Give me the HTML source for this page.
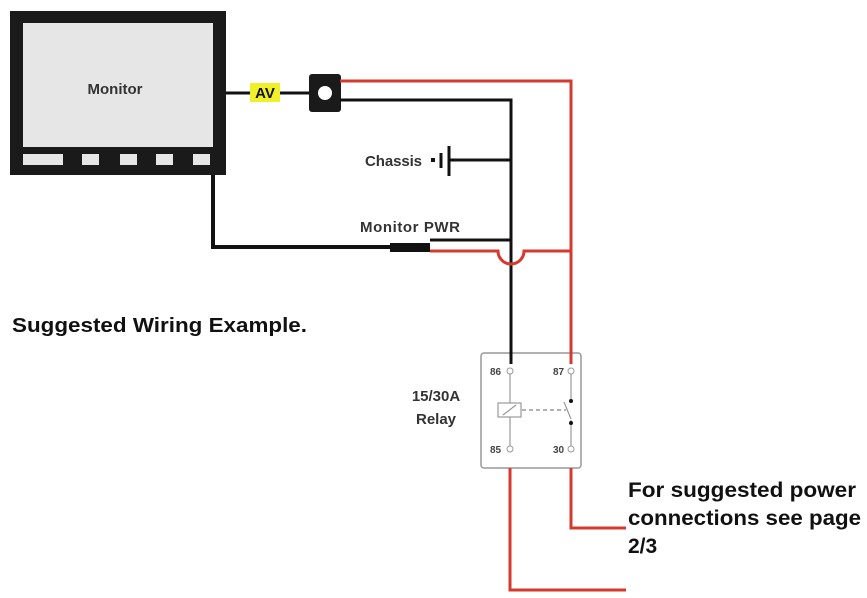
<!DOCTYPE html>
<html><head><style>
body{margin:0;background:#fff;width:867px;height:598px;overflow:hidden;font-family:"Liberation Sans",sans-serif}
</style></head><body>
<svg width="867" height="598" viewBox="0 0 867 598" xmlns="http://www.w3.org/2000/svg" style="position:absolute;left:0;top:0">
<rect x="10" y="11" width="216" height="164" fill="#1a1a1a"/>
<rect x="23" y="23" width="190" height="124" fill="#e6e6e6"/>
<rect x="23" y="154" width="40" height="11" fill="#e6e6e6"/>
<rect x="82" y="154" width="17" height="11" fill="#e6e6e6"/>
<rect x="120" y="154" width="17" height="11" fill="#e6e6e6"/>
<rect x="156" y="154" width="17" height="11" fill="#e6e6e6"/>
<rect x="193" y="154" width="17" height="11" fill="#e6e6e6"/>
<text x="115" y="94" font-size="15" font-weight="bold" fill="#333" text-anchor="middle">Monitor</text>
<line x1="226" y1="93" x2="312" y2="93" stroke="#111" stroke-width="3"/>
<rect x="250" y="83" width="30" height="19" fill="#f0f02a"/>
<text x="265" y="98" font-size="15" font-weight="bold" fill="#111" text-anchor="middle">AV</text>
<rect x="309" y="74" width="32" height="38" rx="3" fill="#1a1a1a"/>
<circle cx="325" cy="93" r="7" fill="#fff"/>
<polyline points="340,81 571,81 571,360" fill="none" stroke="#d63a2f" stroke-width="3"/>
<polyline points="340,100 511,100 511,362" fill="none" stroke="#111" stroke-width="3"/>
<line x1="449" y1="160" x2="511" y2="160" stroke="#111" stroke-width="3"/>
<line x1="449" y1="146" x2="449" y2="176" stroke="#111" stroke-width="3"/>
<line x1="441" y1="153" x2="441" y2="168" stroke="#111" stroke-width="3"/>
<rect x="431" y="158" width="4" height="4" fill="#111"/>
<text x="365" y="166" font-size="15" font-weight="bold" fill="#333" textLength="57">Chassis</text>
<polyline points="213,175 213,247 392,247" fill="none" stroke="#111" stroke-width="4"/>
<rect x="390" y="243" width="40" height="9" fill="#111"/>
<line x1="430" y1="240" x2="511" y2="240" stroke="#111" stroke-width="3"/>
<path d="M430,251 L498,251 A13,13 0 0 0 524,251 L571,251" fill="none" stroke="#d63a2f" stroke-width="3"/>
<text x="360" y="232" font-size="15" font-weight="bold" fill="#333" textLength="100">Monitor PWR</text>
<rect x="481" y="353" width="100" height="115" rx="3" fill="#fff" stroke="#999" stroke-width="1.5"/>
<line x1="511" y1="340" x2="511" y2="364" stroke="#111" stroke-width="3"/>
<line x1="571" y1="340" x2="571" y2="364" stroke="#d63a2f" stroke-width="3"/>
<line x1="510" y1="374" x2="510" y2="446" stroke="#999" stroke-width="1.2"/>
<line x1="571" y1="374" x2="571" y2="400" stroke="#999" stroke-width="1.2"/>
<line x1="571" y1="420" x2="571" y2="446" stroke="#999" stroke-width="1.2"/>
<line x1="564" y1="402" x2="571" y2="419" stroke="#999" stroke-width="1.2"/>
<circle cx="571" cy="401" r="2" fill="#111"/><circle cx="571" cy="423" r="2" fill="#111"/>
<rect x="498" y="403" width="23" height="14" fill="#fff" stroke="#999" stroke-width="1.2"/>
<line x1="503" y1="415" x2="516" y2="405" stroke="#999" stroke-width="1.2"/>
<line x1="522" y1="410" x2="566" y2="410" stroke="#999" stroke-width="1.5" stroke-dasharray="4,3"/>
<circle cx="510" cy="371" r="3" fill="#fff" stroke="#999"/>
<circle cx="571" cy="371" r="3" fill="#fff" stroke="#999"/>
<circle cx="510" cy="449" r="3" fill="#fff" stroke="#999"/>
<circle cx="571" cy="449" r="3" fill="#fff" stroke="#999"/>
<text x="490" y="375" font-size="10" font-weight="bold" fill="#444">86</text>
<text x="553" y="375" font-size="10" font-weight="bold" fill="#444">87</text>
<text x="490" y="453" font-size="10" font-weight="bold" fill="#444">85</text>
<text x="553" y="453" font-size="10" font-weight="bold" fill="#444">30</text>
<text x="436" y="401" font-size="15" font-weight="bold" fill="#333" text-anchor="middle">15/30A</text>
<text x="436" y="424" font-size="15" font-weight="bold" fill="#333" text-anchor="middle">Relay</text>
<polyline points="510,468 510,590 626,590" fill="none" stroke="#d63a2f" stroke-width="3"/>
<polyline points="571,468 571,528 626,528" fill="none" stroke="#d63a2f" stroke-width="3"/>
<text x="12" y="332" font-size="20" font-weight="bold" fill="#111" textLength="295" lengthAdjust="spacingAndGlyphs">Suggested Wiring Example.</text>
<text x="628" y="497" font-size="21" font-weight="bold" fill="#111" textLength="228" lengthAdjust="spacingAndGlyphs">For suggested power</text>
<text x="628" y="525" font-size="21" font-weight="bold" fill="#111" textLength="233" lengthAdjust="spacingAndGlyphs">connections see page</text>
<text x="628" y="553" font-size="21" font-weight="bold" fill="#111">2/3</text>
</svg>
</body></html>
